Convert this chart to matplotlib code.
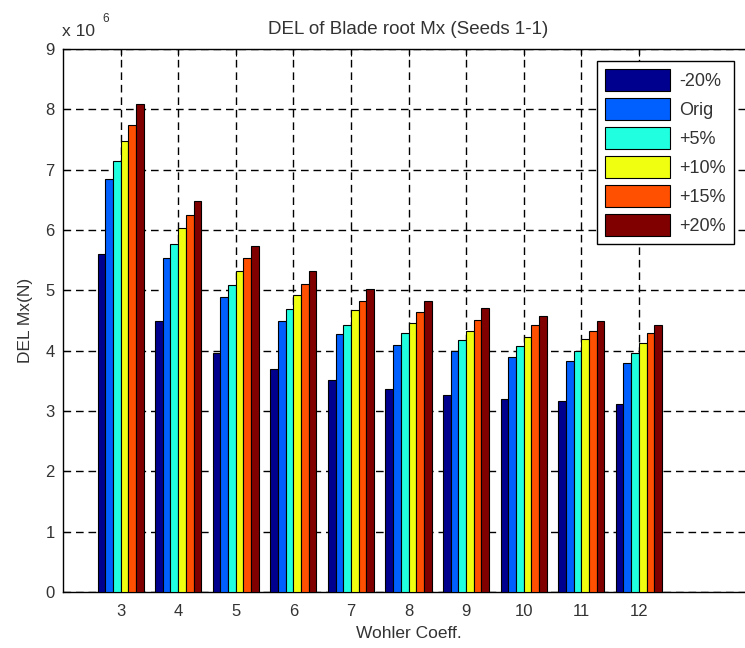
import numpy as np
from matplotlib import pyplot as plt

plt.rcParams['font.family'] = ['Liberation Sans', 'DejaVu Sans']

coeffs = [3, 4, 5, 6, 7, 8, 9, 10, 11, 12]
labels = ["-20%", "Orig", "+5%", "+10%", "+15%", "+20%"]
# DEL values, units of 1e6 N
m20 = [5.60, 4.49, 3.96, 3.69, 3.51, 3.36, 3.27, 3.20, 3.16, 3.11]
orig = [6.85, 5.53, 4.89, 4.50, 4.27, 4.10, 4.00, 3.90, 3.83, 3.80]
p05 = [7.15, 5.77, 5.09, 4.69, 4.43, 4.30, 4.17, 4.07, 4.00, 3.96]
p10 = [7.48, 6.03, 5.32, 4.92, 4.67, 4.46, 4.33, 4.23, 4.20, 4.13]
p15 = [7.74, 6.25, 5.53, 5.10, 4.83, 4.64, 4.51, 4.43, 4.33, 4.30]
p20 = [8.09, 6.48, 5.73, 5.32, 5.03, 4.83, 4.70, 4.57, 4.50, 4.43]
series = [m20, orig, p05, p10, p15, p20]

# matlab jet(64) sampled at the bar colour indices
colors = [(0, 0, 0.5625), (0, 0.375, 1), (0.125, 1, 0.875),
          (0.94, 1, 0.06), (1, 0.31, 0), (0.5, 0, 0)]

txt = '#333333'
fs = 12.5
fig = plt.figure(figsize=(7.45, 6.48), dpi=100)
ax = fig.add_axes([63/745, 56/648, 691/745, 543/648])

w = 0.8 / len(series)
x = np.array(coeffs, dtype=float)
for i, (vals, lab, c) in enumerate(zip(series, labels, colors)):
    ax.bar(x + (i - 2.5) * w, vals, width=w, color=c, edgecolor='k',
           linewidth=0.8, label=lab, zorder=3)

ax.set_xlim(2, 14)
ax.set_ylim(0, 9)
ax.set_xticks(coeffs)
ax.set_yticks(range(10))
ax.grid(True, color='k', linestyle=(0, (5.5, 3.5)), linewidth=1.0, zorder=0)
ax.tick_params(direction='in', length=5, top=True, right=True,
               labelsize=12, labelcolor=txt)
ax.tick_params(axis='x', pad=9)
ax.tick_params(axis='y', pad=6)
for s in ax.spines.values():
    s.set_linewidth(1.0)

ax.set_title("DEL of Blade root Mx (Seeds 1-1)", fontsize=13.5, color=txt, pad=11)
ax.set_xlabel("Wohler Coeff.", fontsize=fs, color=txt, labelpad=5)
ax.set_ylabel("DEL Mx(N)", fontsize=fs, color=txt, labelpad=9)
fig.text(62/745, 1 - 32/648, "x 10", fontsize=fs, color=txt, va='center')
fig.text(102/745, 1 - 19/648, "6", fontsize=8.5, color=txt, va='center')

ax.legend(loc='upper left', bbox_to_anchor=(597/745, 1 - 61/648),
          bbox_transform=fig.transFigure, fontsize=13, fancybox=False,
          edgecolor='k', framealpha=1, handlelength=3.6, handleheight=1.5,
          labelspacing=0.38, handletextpad=0.5, borderpad=0.45,
          borderaxespad=0, labelcolor=txt)

fig.savefig('out.png', dpi=100)
